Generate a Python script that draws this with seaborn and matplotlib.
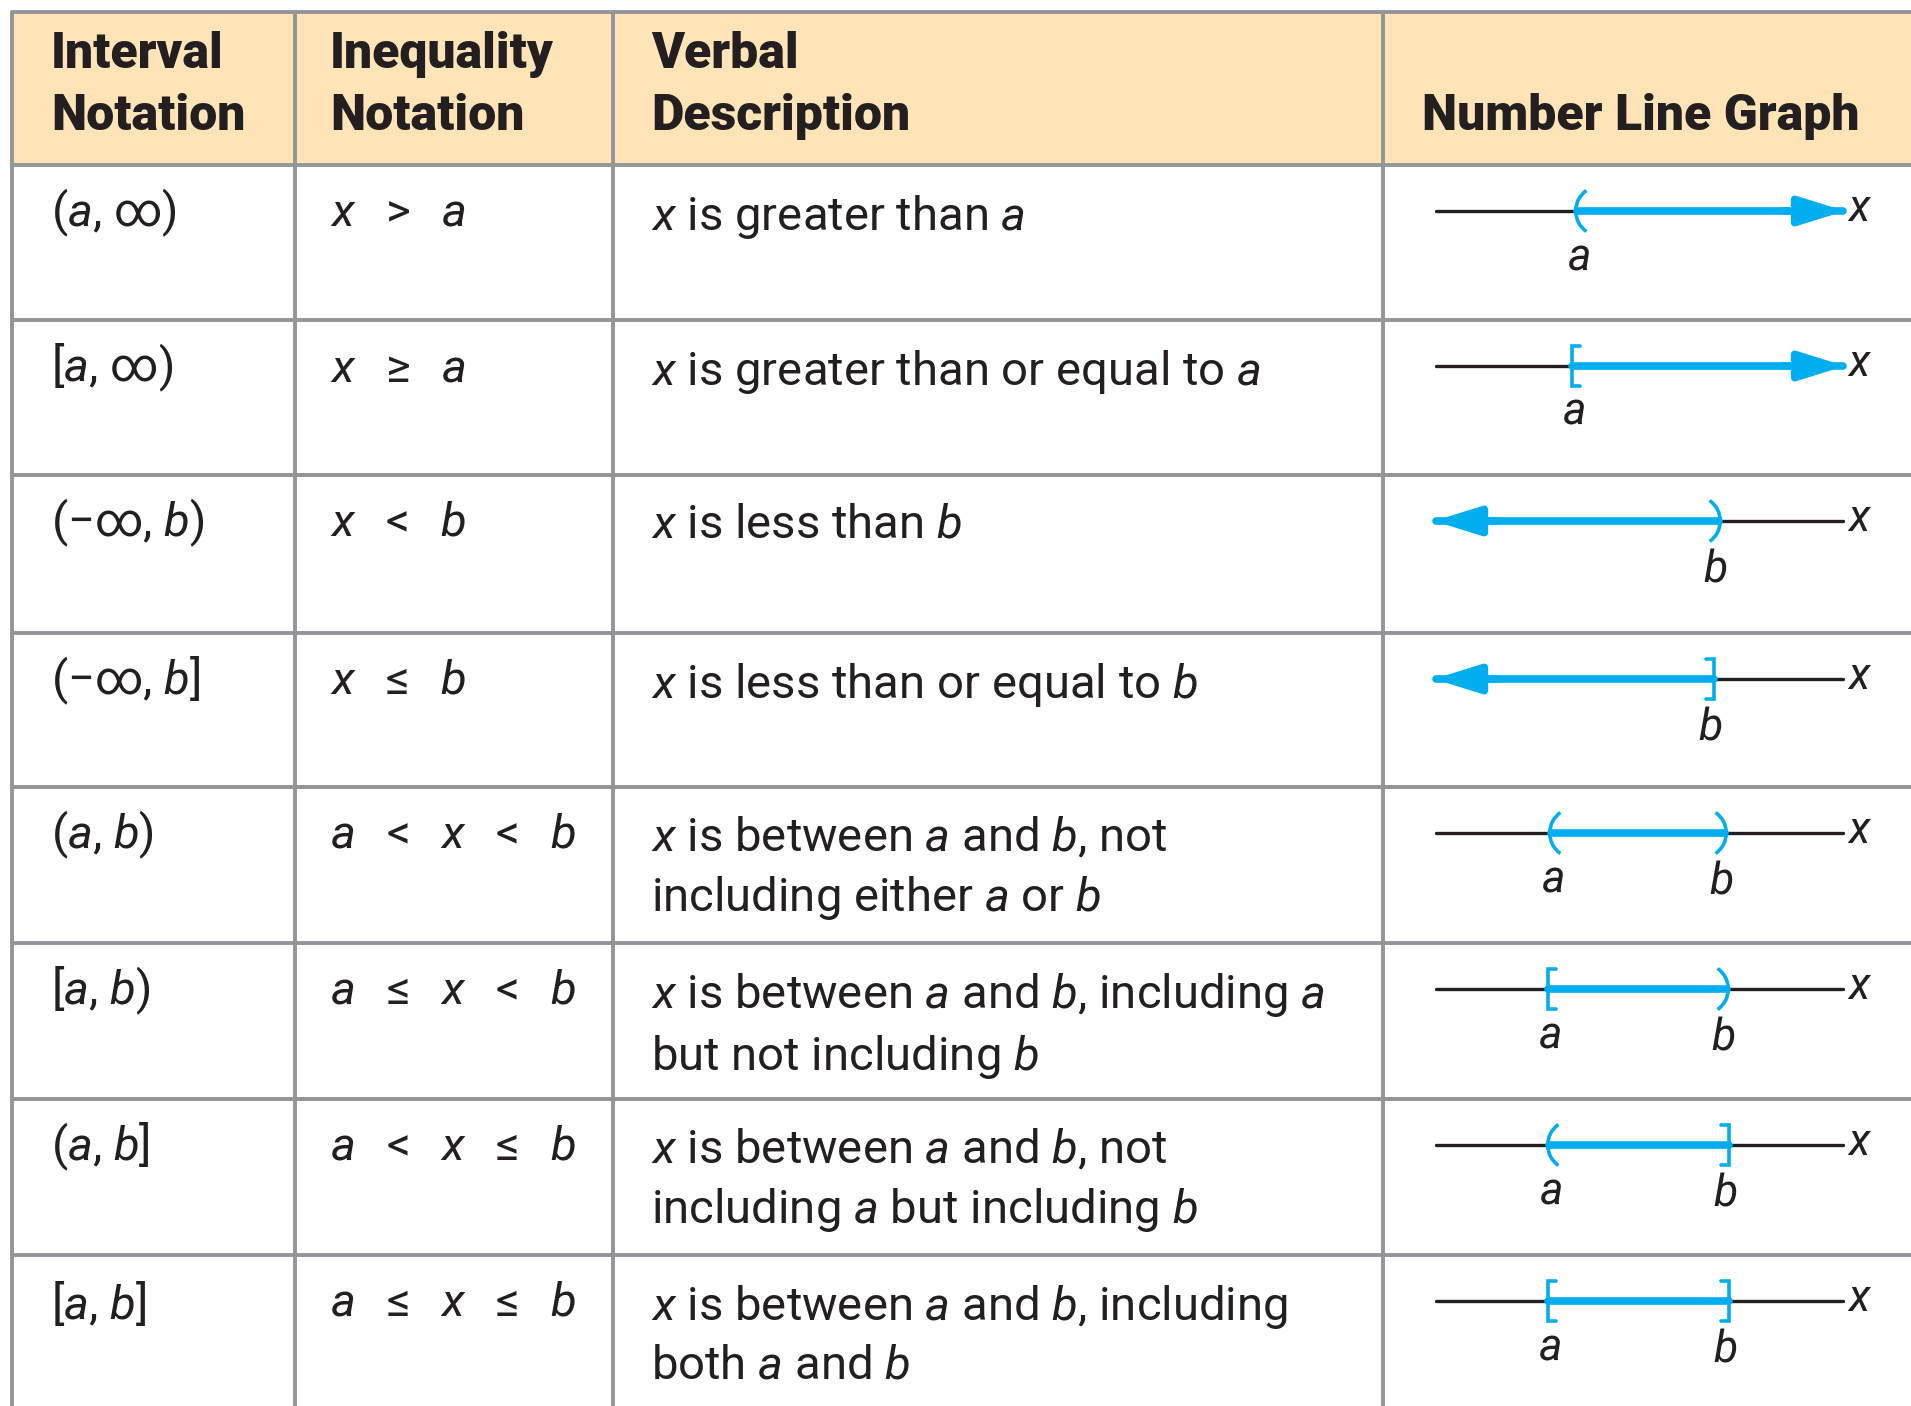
import numpy as np
import pandas as pd
import matplotlib.pyplot as plt
from matplotlib.patches import Rectangle, Arc
import seaborn as sns

# table content
headers = [["Interval", "Notation"], ["Inequality", "Notation"],
           ["Verbal", "Description"], ["", "Number Line Graph"]]
interval_notation = [r"($a$, ∞)", r"[$a$, ∞)", r"(−∞, $b$)", r"(−∞, $b$]",
                     r"($a$, $b$)", r"[$a$, $b$)", r"($a$, $b$]", r"[$a$, $b$]"]
inequality_tokens = [["x", ">", "a"], ["x", "≥", "a"], ["x", "<", "b"], ["x", "≤", "b"],
                     ["a", "<", "x", "<", "b"], ["a", "≤", "x", "<", "b"],
                     ["a", "<", "x", "≤", "b"], ["a", "≤", "x", "≤", "b"]]
verbal = [r"$x$ is greater than $a$",
          r"$x$ is greater than or equal to $a$",
          r"$x$ is less than $b$",
          r"$x$ is less than or equal to $b$",
          r"$x$ is between $a$ and $b$, not" + "\n" + r"including either $a$ or $b$",
          r"$x$ is between $a$ and $b$, including $a$" + "\n" + r"but not including $b$",
          r"$x$ is between $a$ and $b$, not" + "\n" + r"including $a$ but including $b$",
          r"$x$ is between $a$ and $b$, including" + "\n" + r"both $a$ and $b$"]

# number line data (pixel positions)
a_pos = [1577, 1572, None, None, 1551, 1548, 1549, 1548]
b_pos = [None, None, 1719, 1714, 1725, 1727, 1729, 1729]
a_end = ["(", "[", None, None, "(", "[", "(", "["]
b_end = [None, None, ")", "]", ")", ")", "]", "]"]

# layout
W, H = 1911, 1406
col_edges = [12, 295, 613, 1383, 1911]
row_edges = [12, 165, 320, 475, 633, 787, 943, 1099, 1255, 1411]
text_x = [51, 330, 651, 1422]
line_x0, line_x1, xlab_x = 1436, 1843, 1860

blue = "#00aeef"
ink = "#231f20"
grid = "#939598"
peach = "#ffe4b8"

sns.set_theme(style="white")
plt.rcParams['font.family'] = ['Roboto', 'DejaVu Sans']
plt.rcParams['mathtext.fontset'] = 'custom'
plt.rcParams['mathtext.rm'] = 'Roboto'
plt.rcParams['mathtext.it'] = 'Roboto:italic'

fig = plt.figure(figsize=(W / 100, H / 100), dpi=100)
ax = fig.add_axes([0, 0, 1, 1])
ax.set_xlim(0, W)
ax.set_ylim(H, 0)
ax.axis("off")

# header background and grid
ax.add_patch(Rectangle((col_edges[0], row_edges[0]), W - col_edges[0],
                       row_edges[1] - row_edges[0], color=peach, zorder=0))
for y in row_edges[:-1]:
    ax.plot([col_edges[0], W], [y, y], color=grid, lw=2.8, zorder=1)
for x in col_edges[:-1]:
    ax.plot([x, x], [row_edges[0], H], color=grid, lw=2.8, zorder=1)

# header text
for i, (l1, l2) in enumerate(headers):
    for yy, s in ((55, l1), (116, l2)):
        ax.text(text_x[i], yy, s, fontsize=36, fontweight=900, color=ink,
                va="center", ha="left")

# body text
fs = 34
sep = r"$\enspace\;$"
for r in range(8):
    top = row_edges[r + 1]
    ineq = sep.join(f"${t}$" if t.isalpha() else t for t in inequality_tokens[r])
    ax.text(text_x[0], top + 48, interval_notation[r], fontsize=fs, color=ink,
            va="center", ha="left")
    ax.text(text_x[1], top + 48, ineq, fontsize=fs, color=ink,
            va="center", ha="left")
    ax.text(text_x[2], top + 28, verbal[r], fontsize=fs, color=ink,
            va="top", ha="left", linespacing=1.37)


def bracket(x, y, kind):
    h = 20
    if kind in "[]":
        d = 8 if kind == "[" else -8
        ax.plot([x + d, x, x, x + d], [y - h, y - h, y + h, y + h],
                color=blue, lw=2.6, solid_joinstyle="miter", zorder=4)
    else:
        r = 25
        if kind == "(":
            ax.add_patch(Arc((x + r * 0.95, y), 2 * r, 2 * r, theta1=125, theta2=235,
                             color=blue, lw=2.6, zorder=4))
        else:
            ax.add_patch(Arc((x - r * 0.95, y), 2 * r, 2 * r, theta1=-55, theta2=55,
                             color=blue, lw=2.6, zorder=4))


# number lines
lfs = 32
for r in range(8):
    y = row_edges[r + 1] + 46
    a, b = a_pos[r], b_pos[r]
    base = pd.DataFrame({"x": [line_x0, line_x1], "y": [y, y]})
    sns.lineplot(data=base, x="x", y="y", color=ink, lw=2.4, ax=ax, zorder=2,
                 legend=False)
    lo = a if a is not None else line_x0
    hi = b if b is not None else line_x1
    seg = pd.DataFrame({"x": [lo, hi], "y": [y, y]})
    sns.lineplot(data=seg, x="x", y="y", color=blue, lw=5.5, ax=ax, zorder=3,
                 legend=False)
    arrow = dict(arrowstyle="-|>,head_length=1.35,head_width=0.42", color=blue,
                 lw=5.5, shrinkA=0, shrinkB=0, mutation_scale=20)
    if a is not None and b is None:
        ax.annotate("", xy=(line_x1 + 2, y), xytext=(line_x1 - 60, y),
                    arrowprops=arrow, zorder=5)
    if b is not None and a is None:
        ax.annotate("", xy=(line_x0 - 2, y), xytext=(line_x0 + 60, y),
                    arrowprops=arrow, zorder=5)
    if a is not None:
        bracket(a, y, a_end[r])
        ax.text(a + 2, y + 46, r"$a$", fontsize=lfs, color=ink, ha="center", va="center")
    if b is not None:
        bracket(b, y, b_end[r])
        ax.text(b - 4, y + 48, r"$b$", fontsize=lfs, color=ink, ha="center", va="center")
    ax.text(xlab_x, y - 2, r"$x$", fontsize=lfs, color=ink, ha="center", va="center")

fig.savefig("out.png", dpi=100)
